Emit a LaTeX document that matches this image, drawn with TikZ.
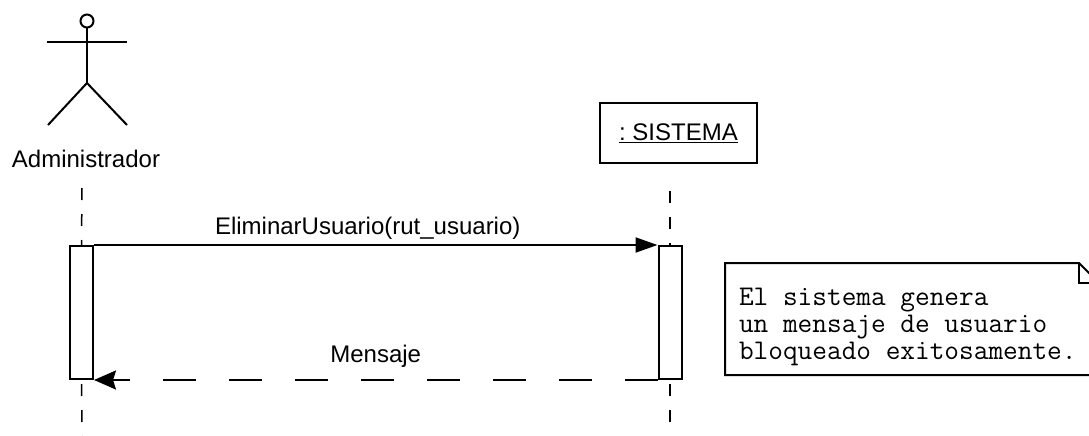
\documentclass[tikz,border=0pt]{standalone}
\usepackage{fontspec}
\setmainfont{Liberation Sans}
\usetikzlibrary{arrows.meta,positioning}

\begin{document}
\begin{tikzpicture}[x=1pt,y=-1pt,line width=2pt,
  activ/.style={draw,fill=white,line width=2pt,minimum width=23pt,minimum height=133pt,inner sep=0pt},
  life/.style={line width=1.5pt,dash pattern=on 12pt off 14pt},
  call/.style={line width=2pt,-{Triangle[length=22pt,width=15pt]}},
  reply/.style={line width=2.5pt,dash pattern=on 33pt off 33pt,-{Stealth[length=22pt,width=19pt,inset=3pt]}},
  lbl/.style={font=\fontsize{24}{28}\selectfont,inner sep=0pt}]
\useasboundingbox (0,0) rectangle (1089,436);
\clip (0,0) rectangle (1089,436);
\node [circle,draw,minimum size=13pt,inner sep=0pt] (head) at (87,21) {};
\coordinate (hip) at (87,83);
\coordinate (handL) at (47,42);
\coordinate (handR) at (127,42);
\coordinate (footL) at (48,125);
\coordinate (footR) at (127,125);
\draw (head.south) -- (hip);
\draw (handL) -- (handR);
\draw (footL) -- (hip) -- (footR);
\node [lbl] (admin) at (86,159) {Administrador};
\node [lbl,draw,line width=2pt,minimum width=157pt,minimum height=60pt] (sis) at (678.5,133) {\underline{:\ SISTEMA}};
\coordinate (aTop) at (82,188);
\coordinate (aBot) at (82,436);
\coordinate (sTop) at (670,191);
\coordinate (sBot) at (670,436);
\node [activ] (actA) at (81.5,312.5) {};
\node [activ] (actS) at (670,312.5) {};
\draw [life] (aTop) -- (actA.north);
\draw [life] (actA.south) ++(0,4) -- (aBot);
\draw [life] (sTop) -- (actS.north);
\draw [life] (actS.south) ++(0,4) -- (sBot);
\draw [call] (actA.north east) -- node [lbl,above=5pt,xshift=-8pt] {EliminarUsuario(rut\_usuario)} (actS.north west);
\draw [reply] (actS.south west) -- node [lbl,above=11pt] {Mensaje} (actA.south east);
\coordinate (noteNW) at (725,263);
\coordinate (foldA) at (1079,263);
\coordinate (foldB) at (1099,283);
\coordinate (noteSE) at (1099,375);
\draw (noteNW) -- (foldA) -- (foldB) -- (noteSE) -- (noteNW |- noteSE) -- cycle;
\draw (foldA) -- (foldA |- foldB) -- (foldB);
\node [font=\ttfamily\fontsize{28.5}{27}\selectfont,align=left,anchor=north west,inner sep=0pt] (notetxt) at (738,287) {El sistema genera\\un mensaje de usuario\\bloqueado exitosamente.};
\end{tikzpicture}
\end{document}
